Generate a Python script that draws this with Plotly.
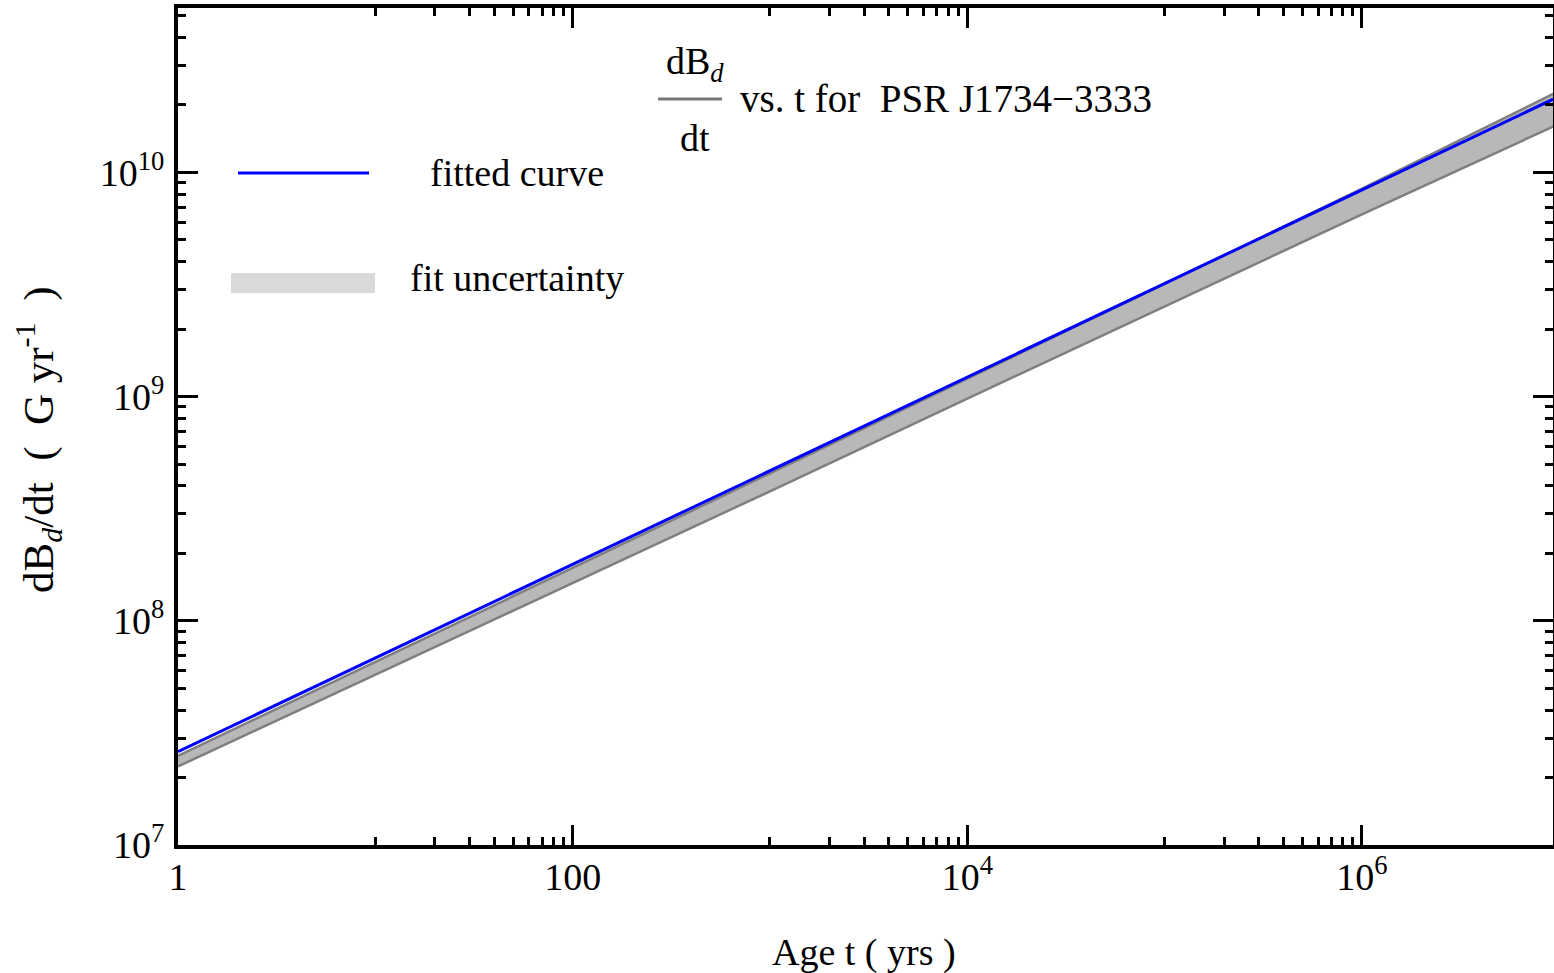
import plotly.graph_objects as go

# ---- data ----
age_t = [1, 10, 100, 1e3, 1e4, 1e5, 1e6, 9.3e6]
fitted_curve = [2.61e7, 6.83e7, 1.78e8, 4.66e8, 1.22e9, 3.19e9, 8.33e9, 2.12e10]
fit_upper = [2.50e7, 6.55e7, 1.72e8, 4.55e8, 1.20e9, 3.18e9, 8.45e9, 2.24e10]
fit_lower = [2.24e7, 5.75e7, 1.47e8, 3.78e8, 9.80e8, 2.52e9, 6.50e9, 1.60e10]

x_tickvals = [1, 100, 1e4, 1e6]
x_ticktext = ["1", "100", "10<sup>4</sup>", "10<sup>6</sup>"]
y_tickvals = [1e7, 1e8, 1e9, 1e10]
y_ticktext = ["10<sup>7</sup>", "10<sup>8</sup>", "10<sup>9</sup>", "10<sup>10</sup>"]
x_minor = [m * 10 ** d for d in (1, 3, 5) for m in range(1, 10)]
y_minor = [m * 10 ** d for d in range(7, 11) for m in range(2, 10)]

FONT = "Liberation Serif"
FS = 38
W, H = 1554, 973
L, R, T, B = 178, 1553, 8, 845


def px(x):
    return (x - L) / (R - L)


def py(y):
    return (B - y) / (B - T)


fig = go.Figure()
fig.add_trace(go.Scatter(x=age_t, y=fit_lower, mode="lines",
                         line=dict(color="#7f7f7f", width=2.5), showlegend=False))
fig.add_trace(go.Scatter(x=age_t, y=fit_upper, mode="lines", fill="tonexty",
                         fillcolor="#b8b8b8",
                         line=dict(color="#7f7f7f", width=2.5), showlegend=False))
fig.add_trace(go.Scatter(x=age_t, y=fitted_curve, mode="lines",
                         line=dict(color="#0000ff", width=3), showlegend=False))

axis_common = dict(
    type="log", showline=True, linewidth=4, linecolor="black", mirror="ticks",
    ticks="inside", ticklen=20, tickwidth=3, tickcolor="black",
    showgrid=False, zeroline=False, automargin=False,
    tickfont=dict(family=FONT, size=FS, color="black"),
)

fig.update_xaxes(range=[0, 6.968], tickmode="array", tickvals=x_tickvals,
                 ticktext=x_ticktext, ticklabelstandoff=-5,
                 minor=dict(tickmode="array", tickvals=x_minor, ticks="inside",
                            ticklen=8, tickwidth=3, tickcolor="black", showgrid=False),
                 **axis_common)
fig.update_yaxes(range=[7, 10.733], tickmode="array", tickvals=y_tickvals,
                 ticktext=y_ticktext, ticklabelstandoff=2,
                 minor=dict(tickmode="array", tickvals=y_minor, ticks="inside",
                            ticklen=8, tickwidth=3, tickcolor="black", showgrid=False),
                 **axis_common)

ann = []


def add_text(x, y, text, xanchor="center", angle=0, size=FS):
    ann.append(dict(x=px(x), y=py(y), xref="paper", yref="paper",
                    xanchor=xanchor, yanchor="middle", textangle=angle,
                    text=text, showarrow=False,
                    font=dict(family=FONT, size=size, color="black")))


# title fraction
add_text(695, 64, "dB<sub><i>d</i></sub>")
add_text(695, 138, "dt")
add_text(738, 98, "vs. t for  PSR J1734\u22123333", xanchor="left", size=39)
# legend texts
add_text(428, 173, "fitted curve", xanchor="left")
add_text(408, 278, "fit uncertainty", xanchor="left")
# axis titles
add_text(864, 952, "Age t ( yrs )")
add_text(38, 440, "dB<sub><i>d</i></sub>/dt  (  G yr<sup>-1</sup>  )", angle=-90, size=43)

shapes = [
    dict(type="line", xref="paper", yref="paper", x0=px(658), x1=px(722),
         y0=py(99), y1=py(99), line=dict(color="#777777", width=3)),
    dict(type="line", xref="paper", yref="paper", x0=px(238), x1=px(369),
         y0=py(173), y1=py(173), line=dict(color="#0000ff", width=3)),
    dict(type="rect", xref="paper", yref="paper", x0=px(231), x1=px(375),
         y0=py(293), y1=py(273), fillcolor="#d9d9d9", line=dict(width=0)),
]

fig.update_layout(
    width=W, height=H,
    margin=dict(l=L, r=W - R, t=T, b=H - B, autoexpand=False),
    paper_bgcolor="white", plot_bgcolor="white",
    annotations=ann, shapes=shapes, showlegend=False,
)

fig.write_html("out.html", config={"displayModeBar": False},
               post_script="document.body.style.margin='0';document.body.style.overflow='hidden';")
